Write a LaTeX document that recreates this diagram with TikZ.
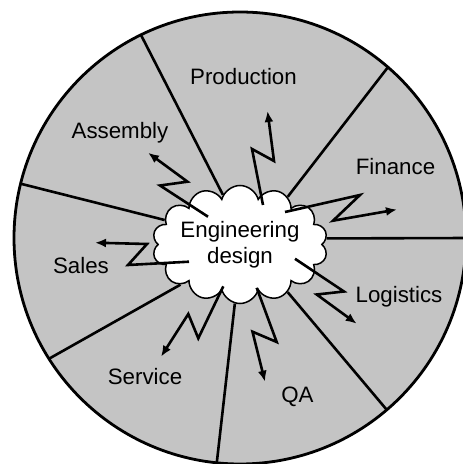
\documentclass[tikz,border=0pt]{standalone}
\usepackage{fontspec}
\setmainfont{Liberation Sans}
\usetikzlibrary{arrows.meta,shapes.symbols}
\definecolor{sectorgray}{RGB}{196,196,196}

\begin{document}
\begin{tikzpicture}[x=1pt,y=1pt,
	divider/.style={line width=2.6pt},
	bolt/.style={line width=2.6pt,-{Latex[length=11pt,width=9pt]}},
	dept/.style={anchor=base,font=\fontsize{22.3}{25.7}\selectfont},
	idea/.style={cloud,cloud puffs=14,cloud puff arc=150,cloud ignores aspect,draw,line width=1.5pt,fill=white,
		minimum width=157pt,minimum height=118pt,inner sep=0pt,align=center,font=\fontsize{22.3}{25.7}\selectfont}]
	\useasboundingbox (0,0) rectangle (463,464);
	\coordinate (c) at (240,226);
	\fill[sectorgray] (c) circle (226pt);
	\node[idea] (ed) at (240,219.5) {Engineering\\design};
	% sector borders
	\draw[divider] (ed.109.7) -- ([shift={(116:226pt)}]c);
	\draw[divider] (ed.45.6) -- ([shift={(49.1:226pt)}]c);
	\draw[divider] (ed.4.4) -- ([shift={(0:230pt)}]c);
	\draw[divider] (ed.-45.3) -- ([shift={(-49.5:226pt)}]c);
	\draw[divider] (ed.-95.4) -- ([shift={(-95.9:226pt)}]c);
	\draw[divider] (ed.-146.3) -- ([shift={(-147.7:226pt)}]c);
	\draw[divider] (ed.162.3) -- ([shift={(166.1:226pt)}]c);
	\draw[line width=2.8pt] (c) circle (226pt);
	% departments
	\node[dept] (prod) at (243.5,379) {Production};
	\node[dept] (asm) at (120,325.7) {Assembly};
	\node[dept] (fin) at (395.5,289) {Finance};
	\node[dept] (sales) at (81,190) {Sales};
	\node[dept] (log) at (399,161.7) {Logistics};
	\node[dept] (serv) at (145,79.7) {Service};
	\node[dept] (qa) at (297.5,61.3) {QA};
	% bolts
	\draw[bolt] (263,259) -- (252,315) -- (274,303) -- (267.5,353);
	\draw[bolt] (285,252) -- (360,269) -- (333,243.3) -- (397,254.5);
	\draw[bolt] (208,247.3) -- (160,278.5) -- (187.5,282.3) -- (148,311.3);
	\draw[bolt] (189,202.3) -- (128,199) -- (147,220) -- (95,221.3);
	\draw[bolt] (295,205.2) -- (344,172.5) -- (316.7,169.5) -- (356.7,140.3);
	\draw[bolt] (256.7,176.2) -- (276.7,122) -- (252.5,132.3) -- (265,82.3);
	\draw[bolt] (223.3,177.7) -- (198.3,125.7) -- (188.3,150) -- (161,107.3);
\end{tikzpicture}
\end{document}
